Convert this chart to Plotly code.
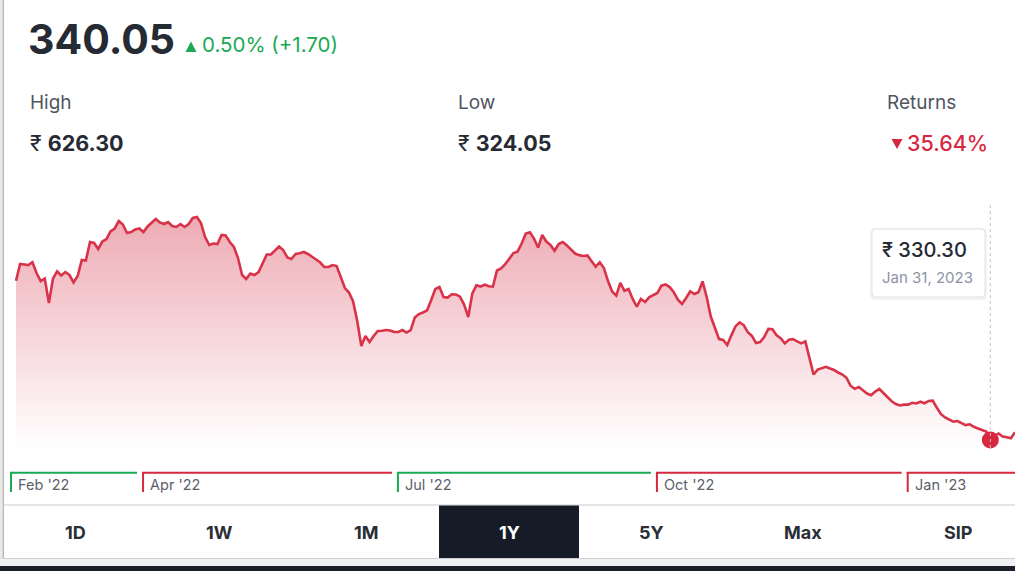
import plotly.graph_objects as go
import pandas as pd

W, H = 1015, 571

# ---------------- data ----------------
holidays = ["2022-03-01", "2022-03-18", "2022-04-14", "2022-04-15", "2022-05-03",
            "2022-08-09", "2022-08-15", "2022-08-31", "2022-10-05", "2022-10-24",
            "2022-10-26", "2022-11-08", "2023-01-26"]
dates = [d.strftime("%Y-%m-%d") for d in pd.bdate_range("2022-02-15", "2023-02-08")
         if d.strftime("%Y-%m-%d") not in holidays]

prices = [
    528.3, 549.1, 548.4, 547.8, 551.2, 537.9, 527.9, 531.0, 500.6, 531.0,
    539.8, 534.8, 539.1, 535.4, 526.1, 534.2, 554.0, 553.4, 576.4, 575.2,
    567.7, 577.0, 580.1, 589.5, 593.2, 602.5, 598.2, 587.6, 588.8, 592.0,
    593.2, 588.8, 595.7, 600.7, 605.0, 600.7, 598.8, 601.3, 596.3, 595.1,
    598.8, 595.1, 598.8, 606.3, 607.5, 600.0, 582.6, 572.7, 574.6, 573.9,
    585.1, 584.5, 576.4, 570.2, 556.5, 535.4, 530.4, 537.3, 535.4, 539.1,
    550.3, 560.9, 560.9, 566.5, 570.8, 566.5, 557.2, 555.3, 561.5, 562.4,
    564.0, 561.5, 558.4, 554.7, 550.9, 545.3, 545.3, 547.8, 546.6, 531.7,
    519.2, 513.6, 502.5, 478.2, 447.1, 459.6, 452.1, 459.6, 465.8, 466.2,
    467.0, 466.4, 464.5, 464.5, 467.0, 463.9, 467.0, 482.6, 486.9, 488.8,
    491.5, 504.3, 518.0, 520.5, 508.1, 507.4, 511.4, 511.2, 508.4, 498.7,
    483.2, 512.4, 522.6, 521.1, 523.3, 521.4, 520.9, 541.0, 543.7, 548.8,
    556.0, 562.7, 564.4, 574.6, 587.0, 588.5, 580.6, 569.5, 585.1, 577.0,
    572.7, 565.5, 573.9, 576.5, 572.2, 566.7, 562.1, 560.1, 559.0, 559.8,
    553.4, 545.7, 551.3, 544.1, 527.9, 514.9, 509.7, 525.5, 515.8, 518.0,
    505.6, 496.2, 505.6, 501.8, 507.7, 510.5, 513.0, 522.1, 523.7, 520.4,
    513.9, 504.7, 499.4, 506.8, 515.0, 511.8, 514.0, 527.4, 508.1, 483.8,
    470.8, 455.8, 454.6, 448.4, 460.4, 471.5, 476.6, 473.2, 464.3, 459.8,
    450.8, 452.1, 458.3, 468.4, 467.9, 460.4, 456.8, 450.4, 454.9, 455.6,
    453.0, 450.5, 452.9, 431.5, 411.7, 417.8, 419.9, 421.3, 419.2, 417.3,
    414.2, 411.7, 407.7, 397.8, 393.9, 396.2, 392.1, 388.1, 386.0, 390.5,
    393.7, 388.7, 383.4, 378.5, 375.1, 373.3, 374.3, 374.3, 376.5, 375.7,
    377.9, 376.0, 378.9, 379.3, 370.3, 362.4, 358.4, 355.4, 353.2, 353.9,
    351.2, 348.9, 349.8, 346.7, 344.7, 342.7, 340.9, 330.30, 335.3, 338.4,
    334.6, 333.7, 332.4, 340.05,
]
if len(prices) != len(dates):
    raise ValueError(f"{len(prices)} prices vs {len(dates)} dates")

tick_dates = ["2022-02-15", "2022-04-01", "2022-07-01", "2022-10-03", "2023-01-02"]
tick_labels = ["Feb '22", "Apr '22", "Jul '22", "Oct '22", "Jan '23"]

hover_date = "2023-01-31"
hover_label = "Jan 31, 2023"

current_price = "340.05"
change_text = "0.50% (+1.70)"
high_text = "626.30"
low_text = "324.05"
returns_text = "35.64%"

buttons = ["1D", "1W", "1M", "1Y", "5Y", "Max", "SIP"]
active_button = "1Y"

# ---------------- styling ----------------
FONT = "Inter, 'Noto Sans', sans-serif"
DARK = "#262a33"
GRAY = "#50555f"
GREEN = "#1aa955"
RED = "#d8283f"
LINE = "#d9334a"

X_RANGE = [-3.892, 243.0]
Y_RANGE = [320.37, 634.84]
PLOT_TOP, PLOT_BOT = 195, 448


def px(x):
    return x / W


def py(y):
    return 1 - y / H


def idx_to_px(i):
    return (i - X_RANGE[0]) / (X_RANGE[1] - X_RANGE[0]) * W


fig = go.Figure()

fig.add_trace(go.Scatter(
    x=dates, y=prices, mode="lines",
    line=dict(color=LINE, width=2.6),
    fill="tozeroy",
    fillgradient=dict(type="vertical",
                      colorscale=[[0, "rgba(255,255,255,1)"], [1, "#eeabb4"]],
                      start=Y_RANGE[0], stop=608),
    hoverinfo="skip", showlegend=False,
))

hi = dates.index(hover_date)
hover_price = prices[hi]
fig.add_trace(go.Scatter(
    x=[hover_date], y=[hover_price], mode="markers",
    marker=dict(size=17, color="#d8283f"),
    cliponaxis=False, hoverinfo="skip", showlegend=False,
))

shapes = []
annotations = []

# left page edge
shapes.append(dict(type="rect", xref="paper", yref="paper", x0=0, x1=px(3), y0=0, y1=1,
                   fillcolor="#e9e9e9", line_width=0, layer="below"))
shapes.append(dict(type="line", xref="paper", yref="paper", x0=px(3.3), x1=px(3.3), y0=0, y1=1,
                   line=dict(color="#a3a3a3", width=1)))

# hover dashed line
hx = px(idx_to_px(hi))
shapes.append(dict(type="line", xref="paper", yref="paper", x0=hx, x1=hx,
                   y0=py(205), y1=py(450), line=dict(color="#c4c4c4", width=1, dash="3px,3px"),
                   layer="above"))


def rounded_rect(x0, y0, x1, y1, r):
    pts = [
        f"M {px(x0 + r)},{py(y0)}",
        f"L {px(x1 - r)},{py(y0)}",
        f"Q {px(x1)},{py(y0)} {px(x1)},{py(y0 + r)}",
        f"L {px(x1)},{py(y1 - r)}",
        f"Q {px(x1)},{py(y1)} {px(x1 - r)},{py(y1)}",
        f"L {px(x0 + r)},{py(y1)}",
        f"Q {px(x0)},{py(y1)} {px(x0)},{py(y1 - r)}",
        f"L {px(x0)},{py(y0 + r)}",
        f"Q {px(x0)},{py(y0)} {px(x0 + r)},{py(y0)}",
        "Z",
    ]
    return " ".join(pts)


# tooltip box with soft shadow
shapes.append(dict(type="path", xref="paper", yref="paper", path=rounded_rect(870, 228, 987, 300, 5),
                   fillcolor="rgba(0,0,0,0.05)", line_width=0, layer="above"))
shapes.append(dict(type="path", xref="paper", yref="paper", path=rounded_rect(872, 229, 985, 297, 4),
                   fillcolor="white", line=dict(color="#e3e3e6", width=1), layer="above"))
annotations.append(dict(xref="paper", yref="paper", x=px(880), y=py(250), xanchor="left", yanchor="middle",
                        text=f"₹ {hover_price:.2f}", showarrow=False,
                        font=dict(family=FONT, size=20, color=DARK, weight=500)))
annotations.append(dict(xref="paper", yref="paper", x=px(880), y=py(277), xanchor="left", yanchor="middle",
                        text=hover_label, showarrow=False,
                        font=dict(family=FONT, size=15, color="#8c94a3")))

# month bands under the chart
tick_idx = [dates.index(d) for d in tick_dates]
starts = [idx_to_px(i) - 1.4 for i in tick_idx]
starts[0] = 10
for k, (s, lab) in enumerate(zip(starts, tick_labels)):
    e = starts[k + 1] - 5 if k + 1 < len(starts) else W + 2
    i0 = tick_idx[k]
    i1 = tick_idx[k + 1] if k + 1 < len(tick_idx) else len(prices) - 1
    col = GREEN if prices[i1] >= prices[i0] else RED
    shapes.append(dict(type="line", xref="paper", yref="paper", x0=px(s), x1=px(e),
                       y0=py(472.7), y1=py(472.7), line=dict(color=col, width=2)))
    shapes.append(dict(type="line", xref="paper", yref="paper", x0=px(s + 1), x1=px(s + 1),
                       y0=py(472), y1=py(492), line=dict(color=col, width=2)))
    annotations.append(dict(xref="paper", yref="paper", x=px(s + 6), y=py(484), xanchor="left",
                            yanchor="middle", text=lab, showarrow=False,
                            font=dict(family=FONT, size=14.5, color="#5b606b")))

# range buttons
shapes.append(dict(type="line", xref="paper", yref="paper", x0=px(3), x1=1, y0=py(505), y1=py(505),
                   line=dict(color="#c9cbd2", width=1)))
btn_centers = [75, 219, 366, 509, 651, 803, 958]
for b, c in zip(buttons, btn_centers):
    active = b == active_button
    if active:
        shapes.append(dict(type="rect", xref="paper", yref="paper", x0=px(439), x1=px(579),
                           y0=py(558), y1=py(505.5), fillcolor="#161c27", line_width=0))
    annotations.append(dict(xref="paper", yref="paper", x=px(c), y=py(532), xanchor="center",
                            yanchor="middle", text=b, showarrow=False,
                            font=dict(family=FONT, size=18, color="white" if active else "#2a2e37",
                                      weight=700)))
shapes.append(dict(type="line", xref="paper", yref="paper", x0=px(3), x1=1, y0=py(558.5), y1=py(558.5),
                   line=dict(color="#cfd1d6", width=1)))
shapes.append(dict(type="rect", xref="paper", yref="paper", x0=0, x1=1, y0=py(566), y1=py(559),
                   fillcolor="#eef0f2", line_width=0))
shapes.append(dict(type="rect", xref="paper", yref="paper", x0=0, x1=1, y0=0, y1=py(566),
                   fillcolor="#1b1f2a", line_width=0))

# header
annotations.append(dict(xref="paper", yref="paper", x=px(26), y=py(39), xanchor="left", yanchor="middle",
                        text=current_price, showarrow=False,
                        font=dict(family=FONT, size=41, color=DARK, weight=700)))
shapes.append(dict(type="path", xref="paper", yref="paper",
                   path=f"M {px(185.5)},{py(52)} L {px(196.5)},{py(52)} L {px(191)},{py(41.5)} Z",
                   fillcolor=GREEN, line_width=0))
annotations.append(dict(xref="paper", yref="paper", x=px(200), y=py(45), xanchor="left", yanchor="middle",
                        text=change_text, showarrow=False,
                        font=dict(family=FONT, size=20.5, color=GREEN)))

for x0, lab in [(28, "High"), (456, "Low"), (885, "Returns")]:
    annotations.append(dict(xref="paper", yref="paper", x=px(x0), y=py(103), xanchor="left",
                            yanchor="middle", text=lab, showarrow=False,
                            font=dict(family=FONT, size=19, color=GRAY)))
for x0, val in [(28, high_text), (456, low_text)]:
    annotations.append(dict(xref="paper", yref="paper", x=px(x0), y=py(143), xanchor="left",
                            yanchor="middle", text=f"₹ <b>{val}</b>", showarrow=False,
                            font=dict(family=FONT, size=21.5, color=DARK)))
shapes.append(dict(type="path", xref="paper", yref="paper",
                   path=f"M {px(891.5)},{py(139)} L {px(902.5)},{py(139)} L {px(897)},{py(149)} Z",
                   fillcolor=RED, line_width=0))
annotations.append(dict(xref="paper", yref="paper", x=px(905), y=py(143), xanchor="left",
                        yanchor="middle", text=returns_text, showarrow=False,
                        font=dict(family=FONT, size=21.5, color=RED, weight=500)))

fig.update_layout(
    width=W, height=H, autosize=False,
    margin=dict(l=0, r=0, t=0, b=0),
    paper_bgcolor="white", plot_bgcolor="rgba(0,0,0,0)",
    xaxis=dict(type="category", range=X_RANGE, domain=[0, 1], visible=False, fixedrange=True),
    yaxis=dict(range=Y_RANGE, domain=[py(PLOT_BOT), py(PLOT_TOP)], visible=False, fixedrange=True),
    shapes=shapes, annotations=annotations, showlegend=False,
    font=dict(family=FONT),
)

fig.write_html("out.html", config={"displayModeBar": False})
